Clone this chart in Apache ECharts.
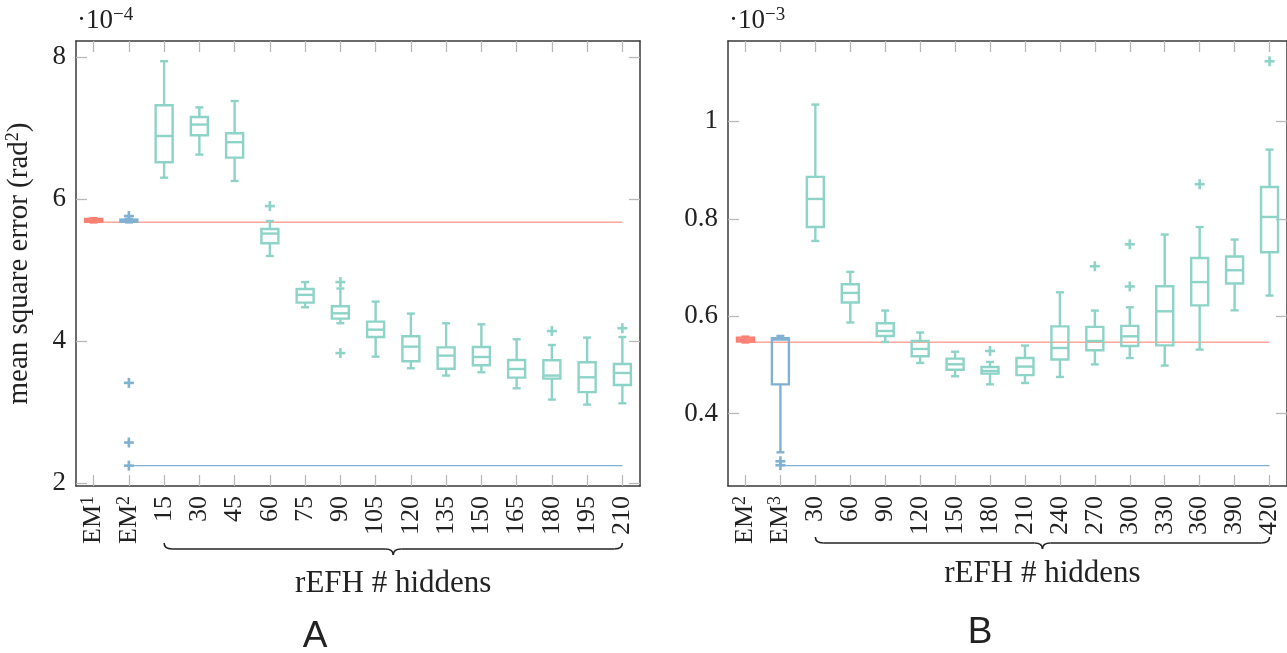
<!DOCTYPE html>
<html>
<head>
<meta charset="utf-8">
<title>rEFH mean square error</title>
<script src="https://cdn.jsdelivr.net/npm/echarts@6/dist/echarts.min.js"></script>
<style>
  html, body { margin: 0; padding: 0; background: #fff; }
  #main { width: 1287px; height: 653px; }
</style>
</head>
<body>
<div id="main"></div>
<script>
// ---- panel A (values in units of 1e-4) ----
const catsA = ['EM1', 'EM2', '15', '30', '45', '60', '75', '90', '105', '120', '135', '150', '165', '180', '195', '210'];
const yTicksA = [2, 4, 6, 8];
// [min, q1, median, q3, max]
const em1BoxA = [5.67, 5.68, 5.70, 5.72, 5.73];
const em2BoxA = [5.67, 5.68, 5.70, 5.71, 5.72];
const em2OutliersA = [5.76, 3.41, 2.57, 2.245];
const refhBoxesA = [
  [6.30, 6.517, 6.887, 7.32, 7.94],
  [6.625, 6.897, 7.048, 7.155, 7.29],
  [6.254, 6.583, 6.80, 6.925, 7.38],
  [5.197, 5.376, 5.513, 5.577, 5.69],
  [4.475, 4.54, 4.65, 4.732, 4.83],
  [4.25, 4.315, 4.39, 4.49, 4.74],
  [3.78, 4.056, 4.16, 4.273, 4.555],
  [3.616, 3.714, 3.92, 4.066, 4.386],
  [3.513, 3.61, 3.794, 3.91, 4.25],
  [3.56, 3.658, 3.775, 3.915, 4.235],
  [3.334, 3.484, 3.606, 3.732, 4.024],
  [3.175, 3.47, 3.513, 3.728, 3.944],
  [3.104, 3.28, 3.489, 3.70, 4.048],
  [3.123, 3.38, 3.55, 3.676, 4.056]
];
const refhOutliersA = [['60', 5.90], ['90', 4.83], ['90', 3.83], ['180', 4.14], ['210', 4.18]];
const emLevelA = 5.672;
const bestLevelA = 2.245;

// ---- panel B (values in units of 1e-3) ----
const catsB = ['EM2', 'EM3', '30', '60', '90', '120', '150', '180', '210', '240', '270', '300', '330', '360', '390', '420'];
const yTicksB = [0.4, 0.6, 0.8, 1];
const em2BoxB = [0.546, 0.548, 0.552, 0.556, 0.558];
const em3BoxB = [0.3205, 0.460, 0.552, 0.5546, 0.5594];
const em3OutliersB = [0.302, 0.294];
const refhBoxesB = [
  [0.7544, 0.783, 0.8407, 0.886, 1.0345],
  [0.587, 0.628, 0.6478, 0.6655, 0.691],
  [0.547, 0.5594, 0.5696, 0.5854, 0.6115],
  [0.504, 0.5177, 0.5327, 0.549, 0.5665],
  [0.4766, 0.490, 0.5012, 0.5129, 0.527],
  [0.460, 0.482, 0.4875, 0.4957, 0.506],
  [0.4628, 0.479, 0.4965, 0.514, 0.5396],
  [0.4752, 0.511, 0.5347, 0.579, 0.649],
  [0.501, 0.530, 0.549, 0.578, 0.6115],
  [0.514, 0.5388, 0.5587, 0.58, 0.6183],
  [0.4986, 0.540, 0.61, 0.6614, 0.7676],
  [0.5314, 0.6222, 0.670, 0.7195, 0.783],
  [0.612, 0.667, 0.6943, 0.7224, 0.7573],
  [0.6423, 0.7312, 0.8037, 0.8653, 0.942]
];
const refhOutliersB = [['180', 0.5286], ['270', 0.7025], ['300', 0.7476], ['300', 0.661], ['360', 0.871], ['420', 1.1234]];
const emLevelB = 0.5466;
const bestLevelB = 0.2932;

const TEAL = '#8dd3c7', RED = '#fb8072', BLUE = '#80b1d3';
const serif = '"Liberation Serif", "DejaVu Serif", serif';
const txt = '#222';

const chart = echarts.init(document.getElementById('main'));

function boxRender(color) {
  return function (params, api) {
    const x = api.value(0);
    const p = [1, 2, 3, 4, 5].map(i => api.coord([x, api.value(i)]));
    const cx = p[0][0], hw = 8.5, cw = 4;
    const st = { stroke: color, lineWidth: 2.4, fill: null };
    return {
      type: 'group',
      children: [
        { type: 'line', shape: { x1: cx, y1: p[0][1], x2: cx, y2: p[1][1] }, style: st },
        { type: 'line', shape: { x1: cx, y1: p[3][1], x2: cx, y2: p[4][1] }, style: st },
        { type: 'line', shape: { x1: cx - cw, y1: p[0][1], x2: cx + cw, y2: p[0][1] }, style: st },
        { type: 'line', shape: { x1: cx - cw, y1: p[4][1], x2: cx + cw, y2: p[4][1] }, style: st },
        { type: 'rect', shape: { x: cx - hw, y: p[3][1], width: 2 * hw, height: p[1][1] - p[3][1] }, style: st },
        { type: 'line', shape: { x1: cx - hw, y1: p[2][1], x2: cx + hw, y2: p[2][1] }, style: st }
      ]
    };
  };
}

function plusRender(color) {
  return function (params, api) {
    const p = api.coord([api.value(0), api.value(1)]);
    const s = 5;
    const st = { stroke: color, lineWidth: 2.6 };
    return {
      type: 'group',
      children: [
        { type: 'line', shape: { x1: p[0] - s, y1: p[1], x2: p[0] + s, y2: p[1] }, style: st },
        { type: 'line', shape: { x1: p[0], y1: p[1] - s, x2: p[0], y2: p[1] + s }, style: st }
      ]
    };
  };
}

function boxSeries(axis, data, color) {
  return {
    type: 'custom', xAxisIndex: axis, yAxisIndex: axis, z: 3,
    renderItem: boxRender(color),
    encode: { x: 0, y: [1, 2, 3, 4, 5] },
    data: data
  };
}
function plusSeries(axis, data, color) {
  return {
    type: 'custom', xAxisIndex: axis, yAxisIndex: axis, z: 4,
    renderItem: plusRender(color),
    encode: { x: 0, y: 1 },
    data: data
  };
}
function levelLine(axis, from, to, v, color, w) {
  return {
    type: 'line', xAxisIndex: axis, yAxisIndex: axis, z: 2,
    symbol: 'none', silent: true,
    lineStyle: { color: color, width: w },
    data: [[from, v], [to, v]]
  };
}

const frameLine = { show: true, onZero: false, lineStyle: { color: '#3a3a3a', width: 1.5 } };
const tickLine = { color: '#b8b8b8', width: 1.3 };
const supRich = { sup: { fontSize: 18, fontFamily: serif, color: txt, verticalAlign: 'top', lineHeight: 18 } };

function xAxisPair(gi, cats) {
  const base = {
    type: 'category', gridIndex: gi, data: cats, boundaryGap: true,
    axisLine: frameLine, splitLine: { show: false },
    axisTick: { show: true, inside: true, alignWithLabel: true, interval: 0, length: 11, lineStyle: tickLine }
  };
  return [
    Object.assign({}, base, {
      position: 'bottom',
      axisLabel: {
        rotate: 90, margin: 10, interval: 0, fontSize: 26, lineHeight: 28, fontFamily: serif, color: txt,
        formatter: v => v.replace(/^EM(\d)$/, 'EM{sup|$1}'),
        rich: supRich
      }
    }),
    Object.assign({}, base, { position: 'top', axisLabel: { show: false } })
  ];
}
function yAxisPair(gi, min, max, ticks, name) {
  const base = {
    type: 'value', gridIndex: gi, min: min, max: max,
    axisLine: frameLine, splitLine: { show: false },
    axisTick: { show: true, inside: true, length: 11, lineStyle: tickLine, customValues: ticks }
  };
  return [
    Object.assign({}, base, {
      position: 'left',
      axisLabel: { customValues: ticks, margin: 10, fontSize: 27, fontFamily: serif, color: txt },
      name: name, nameLocation: 'middle', nameRotate: 90, nameGap: 42,
      nameTextStyle: { fontSize: 29, fontFamily: serif, color: txt, lineHeight: 30, rich: supRich }
    }),
    Object.assign({}, base, { position: 'right', axisLabel: { show: false } })
  ];
}

const option = {
  backgroundColor: '#fff',
  animation: false,
  grid: [
    { left: 76, top: 41, width: 564, height: 445 },
    { left: 728, top: 41, width: 563, height: 445 }
  ],
  xAxis: [].concat(xAxisPair(0, catsA), xAxisPair(1, catsB)),
  yAxis: [].concat(
    yAxisPair(0, 1.958, 8.225, yTicksA, 'mean square error (rad{sup|2})'),
    yAxisPair(1, 0.2513, 1.165, yTicksB, '')
  ),
  series: [
    levelLine(0, catsA[0], catsA[15], emLevelA, 'rgba(251,128,114,0.7)', 1.6),
    levelLine(0, catsA[1], catsA[15], bestLevelA, BLUE, 1.2),
    boxSeries(0, [[catsA[0]].concat(em1BoxA)], RED),
    boxSeries(0, [[catsA[1]].concat(em2BoxA)], BLUE),
    plusSeries(0, em2OutliersA.map(v => [catsA[1], v]), BLUE),
    boxSeries(0, refhBoxesA.map((b, i) => [catsA[i + 2]].concat(b)), TEAL),
    plusSeries(0, refhOutliersA, TEAL),

    levelLine(2, catsB[0], catsB[15], emLevelB, 'rgba(251,128,114,0.7)', 1.6),
    levelLine(2, catsB[1], catsB[15], bestLevelB, BLUE, 1.2),
    boxSeries(2, [[catsB[0]].concat(em2BoxB)], RED),
    boxSeries(2, [[catsB[1]].concat(em3BoxB)], BLUE),
    plusSeries(2, em3OutliersB.map(v => [catsB[1], v]), BLUE),
    boxSeries(2, refhBoxesB.map((b, i) => [catsB[i + 2]].concat(b)), TEAL),
    plusSeries(2, refhOutliersB, TEAL)
  ]
};
chart.setOption(option);

// braces, axis exponent labels and panel letters
function brace(x1, x2, y) {
  const xm = (x1 + x2) / 2, d = 6, r = 8;
  const st = { stroke: '#222', lineWidth: 1.6, fill: null };
  const q = (ax, ay, cx, cy, bx, by) => ({ type: 'bezierCurve', shape: { x1: ax, y1: ay, x2: bx, y2: by, cpx1: cx, cpy1: cy }, style: st });
  return {
    type: 'group', silent: true,
    children: [
      q(x1, y - d, x1, y, x1 + r, y),
      { type: 'line', shape: { x1: x1 + r, y1: y, x2: xm - r, y2: y }, style: st },
      q(xm - r, y, xm, y, xm, y + d),
      q(xm, y + d, xm, y, xm + r, y),
      { type: 'line', shape: { x1: xm + r, y1: y, x2: x2 - r, y2: y }, style: st },
      q(x2 - r, y, x2, y, x2, y - d)
    ]
  };
}
const px = (axis, idx) => chart.convertToPixel({ xAxisIndex: axis }, idx);
const aL = px(0, 2), aR = px(0, 15), bL = px(2, 2), bR = px(2, 15);

function label(x, y, text, size, font) {
  return {
    type: 'text', x: x, y: y, silent: true,
    style: { text: text, fontSize: size, fontFamily: font || serif, fill: txt, align: 'center', verticalAlign: 'middle' }
  };
}
function expLabel(x, y, text) {
  return {
    type: 'text', x: x, y: y, silent: true,
    style: {
      text: text, fontSize: 27, fontFamily: serif, fill: txt, align: 'left', verticalAlign: 'top', lineHeight: 30,
      rich: { sup: { fontSize: 19, fontFamily: serif, fill: txt, verticalAlign: 'top', lineHeight: 19 } }
    }
  };
}

chart.setOption({
  graphic: [
    brace(aL, aR, 549),
    brace(bL, bR, 543),
    label((aL + aR) / 2, 584, 'rEFH # hiddens', 31),
    label((bL + bR) / 2, 574, 'rEFH # hiddens', 31),
    label(315, 637, 'A', 37, '"Liberation Sans", Arial, sans-serif'),
    label(980, 633, 'B', 37, '"Liberation Sans", Arial, sans-serif'),
    expLabel(77, 6, '·10{sup|−4}'),
    expLabel(729, 6, '·10{sup|−3}')
  ]
});
</script>
</body>
</html>
